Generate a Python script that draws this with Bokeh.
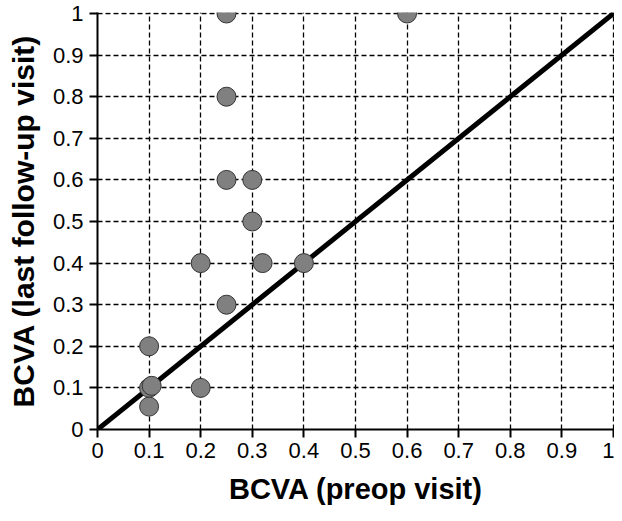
from bokeh.plotting import figure
from bokeh.models import FixedTicker, Range1d
from bokeh.embed import file_html
from bokeh.resources import INLINE

# Data
preop_bcva = [0.25, 0.60, 0.25, 0.25, 0.30, 0.30, 0.20, 0.32, 0.40, 0.25, 0.10, 0.10, 0.105, 0.20, 0.10]
last_bcva  = [1.00, 1.00, 0.80, 0.60, 0.60, 0.50, 0.40, 0.40, 0.40, 0.30, 0.20, 0.10, 0.105, 0.10, 0.055]
diag_x = [0.0, 1.0]
diag_y = [0.0, 1.0]
tick_values = [0.0, 0.1, 0.2, 0.3, 0.4, 0.5, 0.6, 0.7, 0.8, 0.9, 1.0]
tick_labels = ["0", "0.1", "0.2", "0.3", "0.4", "0.5", "0.6", "0.7", "0.8", "0.9", "1"]

FONT = "Liberation Sans"

p = figure(width=614, height=513, output_backend="svg", toolbar_location=None,
           x_range=Range1d(0, 1.002), y_range=Range1d(0, 1.0024),
           min_border_left=97, min_border_right=0, min_border_top=12, min_border_bottom=84)
p.outline_line_color = None
p.background_fill_color = "white"
p.border_fill_color = "white"

for ax, lab in ((p.xaxis[0], "BCVA (preop visit)"), (p.yaxis[0], "BCVA (last follow-up visit)")):
    ax.ticker = FixedTicker(ticks=tick_values)
    ax.major_label_overrides = {v: t for v, t in zip(tick_values, tick_labels)}
    ax.axis_label = lab
    ax.axis_label_text_font = FONT
    ax.axis_label_text_font_style = "bold"
    ax.axis_label_text_color = "black"
    ax.major_label_text_font = FONT
    ax.major_label_text_font_size = "22px"
    ax.major_label_text_color = "black"
    ax.axis_line_color = "black"
    ax.axis_line_width = 2
    ax.major_tick_line_color = "black"
    ax.major_tick_line_width = 2
    ax.major_tick_out = 8
    ax.major_tick_in = 0
    ax.minor_tick_line_color = None

p.xaxis.axis_label_text_font_size = "29px"
p.yaxis.axis_label_text_font_size = "30px"
p.xaxis.major_label_standoff = 5
p.yaxis.major_label_standoff = 6
p.xaxis.axis_label_standoff = 12
p.yaxis.axis_label_standoff = 10

for g in (p.xgrid[0], p.ygrid[0]):
    g.grid_line_color = "black"
    g.grid_line_dash = "5 3"
    g.grid_line_width = 1.3

p.line(diag_x, diag_y, line_color="black", line_width=5)
p.scatter(preop_bcva, last_bcva, size=19, fill_color="#808080", line_color="#333333", line_width=1)

open("out.html", "w").write(file_html(p, INLINE))
